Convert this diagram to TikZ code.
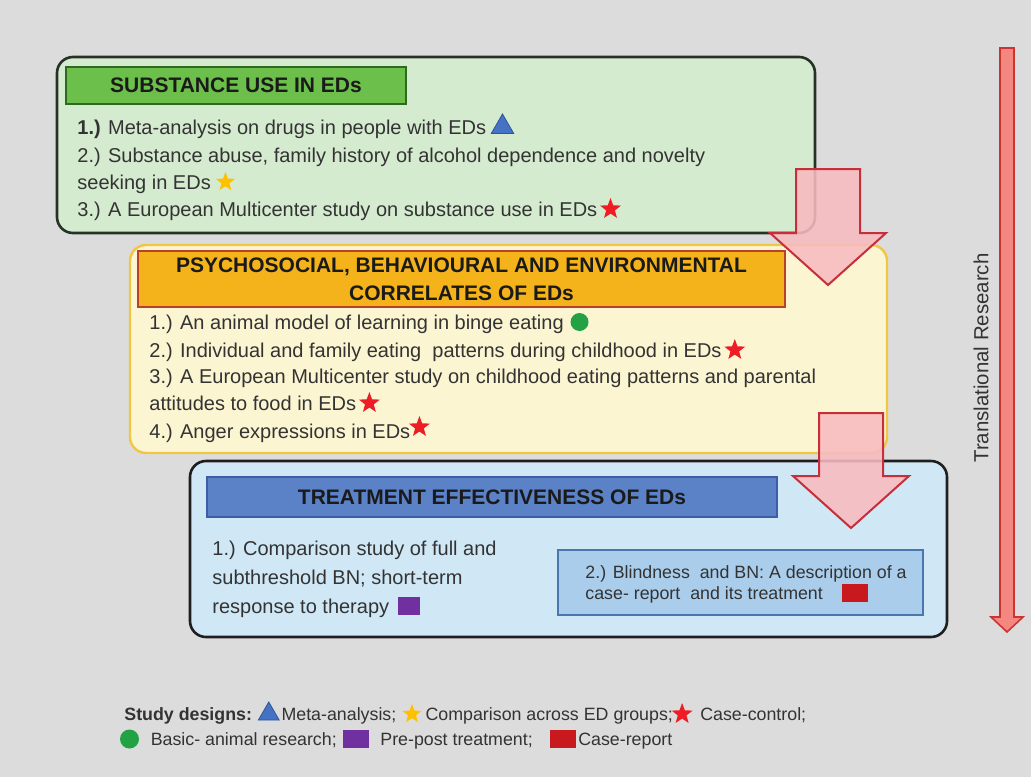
\documentclass[tikz,border=0pt]{standalone}
\usepackage{fontspec}
\setmainfont{Liberation Sans}
\usetikzlibrary{positioning,shapes.geometric}
\definecolor{bg}{HTML}{DCDCDC}
\definecolor{txt}{HTML}{333333}
\definecolor{hdtxt}{HTML}{1A1A1A}
\definecolor{gfill}{HTML}{D5EBCF}
\definecolor{gedge}{HTML}{263226}
\definecolor{ghfill}{HTML}{6CBF4A}
\definecolor{ghedge}{HTML}{2D6A1F}
\definecolor{yfill}{HTML}{FCF5D2}
\definecolor{yedge}{HTML}{F0C645}
\definecolor{ohfill}{HTML}{F5B31B}
\definecolor{ohedge}{HTML}{B9412C}
\definecolor{bfill}{HTML}{D0E8F6}
\definecolor{bedge}{HTML}{1E1E1E}
\definecolor{bhfill}{HTML}{5B81C6}
\definecolor{bhedge}{HTML}{3D5EA6}
\definecolor{sfill}{HTML}{A9CDEB}
\definecolor{sedge}{HTML}{4A77AE}
\definecolor{triblue}{HTML}{4472C4}
\definecolor{triedge}{HTML}{2F5597}
\definecolor{stargold}{HTML}{FFC000}
\definecolor{starred}{HTML}{EE1C25}
\definecolor{dotgreen}{HTML}{22A245}
\definecolor{sqpurple}{HTML}{7030A0}
\definecolor{sqred}{HTML}{C81A1E}
\definecolor{arrpink}{HTML}{F8BBC0}
\definecolor{arredge}{HTML}{C62F3A}
\definecolor{trpink}{HTML}{F4877F}
\definecolor{tredge}{HTML}{CC3333}
\begin{document}
\begin{tikzpicture}[x=0.5pt,y=-0.5pt,
	box/.style={rounded corners=8pt,line width=1.3pt,inner sep=0pt},
	hdr/.style={draw,line width=1pt,inner sep=0pt,text=hdtxt,font=\bfseries\fontsize{10.5}{14}\selectfont},
	ln/.style={anchor=west,inner sep=0pt,text height=7.2pt,text depth=0pt,text=txt,font=\fontsize{10}{12}\selectfont},
	sm/.style={ln,text height=6.4pt,font=\fontsize{8.9}{11}\selectfont},
	tri/.style={regular polygon,regular polygon sides=3,fill=triblue,draw=triedge,inner sep=0pt,minimum size=13pt},
	ystar/.style={star,star points=5,star point ratio=2.4,fill=stargold,inner sep=0pt,minimum size=10pt},
	rstar/.style={ystar,fill=starred,minimum size=11pt},
	dot/.style={circle,fill=dotgreen,inner sep=0pt,minimum size=9pt},
	psq/.style={rectangle,fill=sqpurple,inner sep=0pt,minimum width=11pt,minimum height=9pt},
	rsq/.style={psq,fill=sqred,minimum width=13pt},
	blk/.style={fill=arrpink,fill opacity=0.88,draw=arredge,line width=1pt}]
	\useasboundingbox (0,0) rectangle (1031,777);
	\fill[bg] (0,0) rectangle (1031,777);
	\node[box,draw=gedge,fill=gfill,minimum width=379pt,minimum height=88pt] (gbox) at (436,145) {};
	\node[hdr,draw=ghedge,fill=ghfill,minimum width=170pt,minimum height=18.5pt] (ghead) at (236,85.5) {SUBSTANCE USE IN EDs};
	\node[ln] (g1) at (77,127) {\textbf{1.)} Meta-analysis on drugs in people with EDs};
	\node[tri,right=4pt of g1] (g1k) {};
	\node[ln] (g2) at (77,155) {2.) Substance abuse, family history of alcohol dependence and novelty};
	\node[ln] (g3) at (77,182) {seeking in EDs};
	\node[ystar,right=4pt of g3] (g3k) {};
	\node[ln] (g4) at (77,209) {3.) A European Multicenter study on substance use in EDs};
	\node[rstar,right=3pt of g4] (g4k) {};
	\node[box,draw=yedge,fill=yfill,line width=1.2pt,minimum width=378.5pt,minimum height=104pt] (ybox) at (508.5,349) {};
	\node[hdr,draw=ohedge,fill=ohfill,align=center,minimum width=323.5pt,minimum height=28pt] (ohead) at (461.5,279) {PSYCHOSOCIAL, BEHAVIOURAL AND ENVIRONMENTAL\\CORRELATES OF EDs};
	\node[ln] (y1) at (149,322) {1.) An animal model of learning in binge eating};
	\node[dot,right=3pt of y1] (y1k) {};
	\node[ln] (y2) at (149,350) {2.) Individual and family eating\ \ patterns during childhood in EDs};
	\node[rstar,right=3pt of y2] (y2k) {};
	\node[ln] (y3) at (149,376) {3.) A European Multicenter study on childhood eating patterns and parental};
	\node[ln] (y4) at (149,403) {attitudes to food in EDs};
	\node[rstar,right=3pt of y4] (y4k) {};
	\node[ln] (y5) at (149,431) {4.) Anger expressions in EDs};
	\node[rstar,right=1pt of y5,yshift=2pt] (y5k) {};
	\node[box,draw=bedge,fill=bfill,minimum width=378.5pt,minimum height=88pt] (bbox) at (568.5,549) {};
	\node[hdr,draw=bhedge,fill=bhfill,minimum width=285pt,minimum height=20pt] (bhead) at (492,497) {TREATMENT EFFECTIVENESS OF EDs};
	\node[ln] (b1) at (212,548) {1.) Comparison study of full and};
	\node[ln] (b2) at (212,577) {subthreshold BN; short-term};
	\node[ln] (b3) at (212,606) {response to therapy};
	\node[psq,right=4pt of b3] (b3k) {};
	\node[draw=sedge,fill=sfill,line width=1pt,minimum width=182.5pt,minimum height=32.5pt] (sbox) at (740.5,582.5) {};
	\node[sm] (s1) at (585,572) {2.) Blindness\ \ and BN: A description of a};
	\node[sm] (s2) at (585,593) {case- report\ \ and its treatment};
	\node[rsq,right=9pt of s2] (s2k) {};
	\draw[blk] (796,169) -- (860,169) -- (860,233) -- (886,233) -- (828,285) -- (770,233) -- (796,233) -- cycle;
	\draw[blk] (819,413) -- (883,413) -- (883,476) -- (909,476) -- (851,528) -- (793,476) -- (819,476) -- cycle;
	\draw[fill=trpink,draw=tredge,line width=0.8pt] (1000,48) -- (1014,48) -- (1014,617) -- (1023,617) -- (1007,632) -- (991,617) -- (1000,617) -- cycle;
	\node[rotate=90,inner sep=0pt,text=txt,font=\fontsize{10.2}{12}\selectfont] (trans) at (981,358) {Translational Research};
	\node[sm,font=\bfseries\fontsize{8.9}{11}\selectfont] (sd) at (124,714) {Study designs:};
	\node[tri,minimum size=12pt,right=4.5pt of sd] (k1) {};
	\node[sm,right=2.5pt of k1] (t1) {Meta-analysis;};
	\node[ystar,right=4.5pt of t1] (k2) {};
	\node[sm,right=3.5pt of k2] (t2) {Comparison across ED groups;};
	\node[rstar,right=1pt of t2] (k3) {};
	\node[sm,right=5.5pt of k3] (t3) {Case-control;};
	\node[dot,minimum size=9.5pt] (k4) at (129.5,739) {};
	\node[sm,right=5.5pt of k4] (t4) {Basic- animal research;};
	\node[psq,minimum width=13pt,right=2.5pt of t4] (k5) {};
	\node[sm,right=5.5pt of k5] (t5) {Pre-post treatment;};
	\node[rsq,right=8pt of t5] (k6) {};
	\node[sm,right=1pt of k6] (t6) {Case-report};
\end{tikzpicture}
\end{document}
